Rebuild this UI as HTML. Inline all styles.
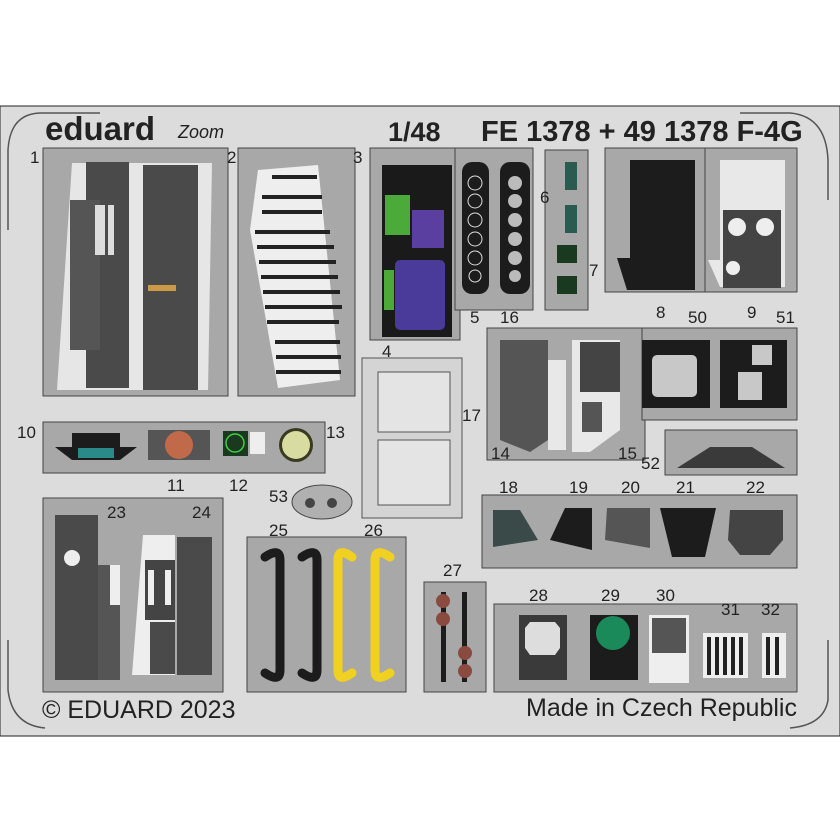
<!DOCTYPE html>
<html><head><meta charset="utf-8"><style>
html,body{margin:0;padding:0;background:#fff}
svg{display:block}
text{font-family:"Liberation Sans",sans-serif}
</style></head><body>
<svg width="840" height="840" viewBox="0 0 840 840" xmlns="http://www.w3.org/2000/svg">
<rect width="840" height="840" fill="#fff"/>
<rect x="0" y="106" width="840" height="630" fill="#dcdcdc" stroke="#222" stroke-width="1"/>
<path d="M8 230 V150 Q10 114 40 113 H100" fill="none" stroke="#555" stroke-width="1.5"/>
<path d="M740 113 H790 Q826 116 828 160 V200" fill="none" stroke="#555" stroke-width="1.5"/>
<path d="M8 640 V690 Q12 725 45 728" fill="none" stroke="#555" stroke-width="1.5"/>
<path d="M828 640 V700 Q824 725 790 728" fill="none" stroke="#555" stroke-width="1.5"/>
<text x="45" y="140" font-family="Liberation Serif" font-weight="bold" font-size="33" fill="#222">eduard</text>
<text x="178" y="138" font-family="Liberation Serif" font-style="italic" font-size="18" fill="#222">Zoom</text>
<text x="388" y="141" font-weight="bold" font-size="27" fill="#222">1/48</text>
<text x="481" y="141" font-weight="bold" font-size="29" fill="#222">FE 1378 + 49 1378 F-4G</text>
<g fill="#a8a8a8" stroke="#444" stroke-width="1">
<rect x="43" y="148" width="185" height="248"/>
<rect x="238" y="148" width="117" height="248"/>
<rect x="370" y="148" width="90" height="192"/>
<rect x="455" y="148" width="78" height="162"/>
<rect x="545" y="150" width="43" height="160"/>
<rect x="605" y="148" width="100" height="144"/>
<rect x="705" y="148" width="92" height="144"/>
<rect x="487" y="328" width="158" height="132"/>
<rect x="642" y="328" width="155" height="92"/>
<rect x="665" y="430" width="132" height="45"/>
<rect x="43" y="422" width="282" height="51"/>
<rect x="43" y="498" width="180" height="194"/>
<rect x="247" y="537" width="159" height="155"/>
<rect x="424" y="582" width="62" height="110"/>
<rect x="482" y="495" width="315" height="73"/>
<rect x="494" y="604" width="303" height="88"/>
</g>
<g fill="#d4d4d4" stroke="#555" stroke-width="1">
<rect x="362" y="358" width="100" height="160"/>
<rect x="378" y="372" width="72" height="60" fill="#e4e4e4"/>
<rect x="378" y="440" width="72" height="65" fill="#e4e4e4"/>
</g>
<ellipse cx="322" cy="502" rx="30" ry="17" fill="#b0b0b0" stroke="#444"/>
<circle cx="310" cy="503" r="5" fill="#444"/><circle cx="332" cy="503" r="5" fill="#444"/>
<!-- panel 1 -->
<path d="M72 163 L212 163 L208 390 L57 390 Z" fill="#e6e6e6"/>
<rect x="86" y="162" width="43" height="226" fill="#4a4a4a"/>
<rect x="70" y="200" width="30" height="150" fill="#555"/>
<rect x="143" y="165" width="55" height="225" fill="#4a4a4a"/>
<rect x="95" y="205" width="10" height="50" fill="#ddd"/><rect x="108" y="205" width="6" height="50" fill="#ddd"/>
<rect x="148" y="285" width="28" height="6" fill="#c94"/>
<!-- panel 2 -->
<path d="M258 170 L318 165 L340 380 L278 388 L250 230 Z" fill="#eee"/>
<g fill="#222"><rect x="255" y="230" width="75" height="4"/><rect x="257" y="245" width="77" height="4"/><rect x="259" y="260" width="77" height="4"/><rect x="261" y="275" width="77" height="4"/><rect x="263" y="290" width="77" height="4"/><rect x="265" y="305" width="77" height="4"/><rect x="267" y="320" width="72" height="4"/><rect x="275" y="340" width="65" height="4"/><rect x="276" y="355" width="65" height="4"/><rect x="276" y="370" width="65" height="4"/><rect x="272" y="175" width="45" height="4"/><rect x="262" y="195" width="60" height="4"/><rect x="262" y="210" width="60" height="4"/></g>
<!-- 3/4 -->
<rect x="382" y="165" width="70" height="172" fill="#1a1a1a"/>
<rect x="385" y="195" width="25" height="40" fill="#4caa3a"/>
<rect x="412" y="210" width="32" height="38" fill="#5a3fa0"/>
<rect x="395" y="260" width="50" height="70" rx="5" fill="#4a3a9a"/>
<rect x="384" y="270" width="10" height="40" fill="#4caa3a"/>
<!-- 5/16 -->
<rect x="462" y="162" width="27" height="132" rx="10" fill="#1c1c1c"/>
<g fill="none" stroke="#ddd" stroke-width="1"><circle cx="475" cy="183" r="7"/><circle cx="475" cy="201" r="7"/><circle cx="475" cy="220" r="7"/><circle cx="475" cy="239" r="7"/><circle cx="475" cy="258" r="7"/><circle cx="475" cy="276" r="6"/></g>
<rect x="500" y="162" width="30" height="132" rx="10" fill="#1c1c1c"/>
<g fill="#bbb"><circle cx="515" cy="183" r="7"/><circle cx="515" cy="201" r="7"/><circle cx="515" cy="220" r="7"/><circle cx="515" cy="239" r="7"/><circle cx="515" cy="258" r="7"/><circle cx="515" cy="276" r="6"/></g>
<!-- 6/7 -->
<rect x="565" y="162" width="12" height="28" fill="#2a5a50"/><rect x="565" y="205" width="12" height="28" fill="#2a5a50"/>
<rect x="557" y="245" width="20" height="18" fill="#1a3a20"/><rect x="557" y="276" width="20" height="18" fill="#1a3a20"/>
<!-- 8 -->
<path d="M630 160 H695 V290 H627 L617 258 H630 Z" fill="#1c1c1c"/>
<!-- 9 -->
<path d="M720 160 H785 V287 H720 L708 260 H720 Z" fill="#e8e8e8"/>
<rect x="723" y="210" width="58" height="78" fill="#444"/>
<circle cx="737" cy="227" r="9" fill="#eee"/><circle cx="765" cy="227" r="9" fill="#eee"/><circle cx="733" cy="268" r="7" fill="#eee"/>
<!-- 14/15 -->
<path d="M500 340 H548 V440 L530 452 L500 440 Z" fill="#555"/>
<path d="M548 360 H566 V450 L548 450 Z" fill="#e8e8e8"/>
<path d="M572 340 H620 V430 L590 452 L572 452 Z" fill="#e8e8e8"/>
<rect x="580" y="342" width="40" height="50" fill="#444"/>
<rect x="582" y="402" width="20" height="30" fill="#555"/>
<!-- 50/51 -->
<rect x="642" y="340" width="68" height="68" fill="#1c1c1c"/><rect x="652" y="355" width="45" height="42" rx="5" fill="#c8c8c8"/>
<rect x="720" y="340" width="67" height="68" fill="#1c1c1c"/><rect x="738" y="372" width="24" height="28" fill="#c8c8c8"/><rect x="752" y="345" width="20" height="20" fill="#c8c8c8"/>
<path d="M677 468 L710 447 H752 L785 468 Z" fill="#3a3a3a"/>
<!-- 10-13 -->
<path d="M55 447 L72 447 V433 H120 V447 L137 447 L120 460 H72 Z" fill="#1c1c1c"/>
<rect x="78" y="448" width="36" height="10" fill="#2a8a8a"/>
<rect x="148" y="430" width="62" height="30" fill="#555"/><circle cx="179" cy="445" r="14" fill="#c06a4a"/>
<rect x="223" y="431" width="25" height="25" fill="#1a3a20"/><circle cx="235" cy="443" r="9" fill="none" stroke="#4c4" stroke-width="1.5"/>
<rect x="250" y="432" width="15" height="22" fill="#eee"/>
<circle cx="296" cy="445" r="17" fill="#3a3a20"/><circle cx="296" cy="445" r="14" fill="#d8dca0"/>
<!-- 23/24 -->
<rect x="55" y="515" width="43" height="165" fill="#4a4a4a"/>
<circle cx="72" cy="558" r="8" fill="#eee"/>
<rect x="98" y="565" width="22" height="115" fill="#555"/>
<rect x="110" y="565" width="10" height="40" fill="#eee"/>
<path d="M143 535 H175 V675 H132 Z" fill="#eee"/>
<rect x="145" y="560" width="30" height="60" fill="#444"/><rect x="148" y="570" width="6" height="35" fill="#eee"/><rect x="165" y="570" width="6" height="35" fill="#eee"/>
<rect x="150" y="622" width="25" height="52" fill="#4a4a4a"/>
<rect x="177" y="537" width="35" height="138" fill="#4a4a4a"/>
<!-- 25/26 -->
<g stroke-linecap="round" fill="none" stroke-width="9">
<path d="M265 557 Q280 547 280 560 V670 Q280 683 265 673" stroke="#1c1c1c"/>
<path d="M302 557 Q317 547 317 560 V670 Q317 683 302 673" stroke="#1c1c1c"/>
<path d="M352 557 Q338 547 338 560 V670 Q338 683 352 673" stroke="#f0d020"/>
<path d="M390 557 Q375 547 375 560 V670 Q375 683 390 673" stroke="#f0d020"/>
</g>
<!-- 27 -->
<rect x="441" y="592" width="5" height="90" fill="#1c1c1c"/><rect x="462" y="592" width="5" height="90" fill="#1c1c1c"/>
<circle cx="443" cy="601" r="7" fill="#8a4a40"/><circle cx="443" cy="619" r="7" fill="#8a4a40"/>
<circle cx="465" cy="653" r="7" fill="#8a4a40"/><circle cx="465" cy="671" r="7" fill="#8a4a40"/>
<!-- 18-22 -->
<path d="M493 510 H520 L538 540 L493 547 Z" fill="#3a4a48"/>
<path d="M565 508 H592 V550 L550 540 Z" fill="#1c1c1c"/>
<path d="M607 508 H650 V548 L605 540 Z" fill="#555"/>
<path d="M660 508 H716 L705 557 H672 Z" fill="#1c1c1c"/>
<path d="M730 510 H783 V540 L770 555 H740 L728 540 Z" fill="#444"/>
<!-- 28-32 -->
<rect x="519" y="615" width="48" height="65" fill="#3a3a3a"/><path d="M530 622 H555 L560 628 V648 L555 655 H530 L525 648 V628 Z" fill="#ddd"/>
<rect x="590" y="615" width="48" height="65" fill="#1c1c1c"/><circle cx="613" cy="633" r="17" fill="#1a8a5a"/>
<rect x="649" y="615" width="40" height="68" fill="#eee"/><rect x="652" y="618" width="34" height="35" fill="#555"/>
<rect x="703" y="633" width="45" height="45" fill="#eee"/>
<rect x="762" y="633" width="24" height="45" fill="#eee"/>
<g fill="#222"><rect x="707" y="637" width="4" height="38"/><rect x="715" y="637" width="4" height="38"/><rect x="723" y="637" width="4" height="38"/><rect x="731" y="637" width="4" height="38"/><rect x="739" y="637" width="4" height="38"/><rect x="766" y="637" width="4" height="38"/><rect x="775" y="637" width="4" height="38"/></g>
<!-- labels -->
<g font-size="17" fill="#222">
<text x="30" y="163">1</text><text x="227" y="163">2</text><text x="353" y="163">3</text>
<text x="382" y="357">4</text><text x="470" y="323">5</text><text x="500" y="323">16</text>
<text x="540" y="203">6</text><text x="589" y="276">7</text><text x="656" y="318">8</text>
<text x="688" y="323">50</text><text x="747" y="318">9</text><text x="776" y="323">51</text>
<text x="462" y="421">17</text><text x="491" y="459">14</text><text x="618" y="459">15</text>
<text x="641" y="469">52</text><text x="17" y="438">10</text><text x="167" y="491">11</text>
<text x="229" y="491">12</text><text x="326" y="438">13</text><text x="269" y="502">53</text>
<text x="107" y="518">23</text><text x="192" y="518">24</text><text x="269" y="536">25</text>
<text x="364" y="536">26</text><text x="443" y="576">27</text><text x="499" y="493">18</text>
<text x="569" y="493">19</text><text x="621" y="493">20</text><text x="676" y="493">21</text>
<text x="746" y="493">22</text><text x="529" y="601">28</text><text x="601" y="601">29</text>
<text x="656" y="601">30</text><text x="721" y="615">31</text><text x="761" y="615">32</text>
</g>
<text x="42" y="718" font-size="25" fill="#222">© EDUARD 2023</text>
<text x="526" y="716" font-size="25" fill="#222">Made in Czech Republic</text>
</svg>
</body></html>
